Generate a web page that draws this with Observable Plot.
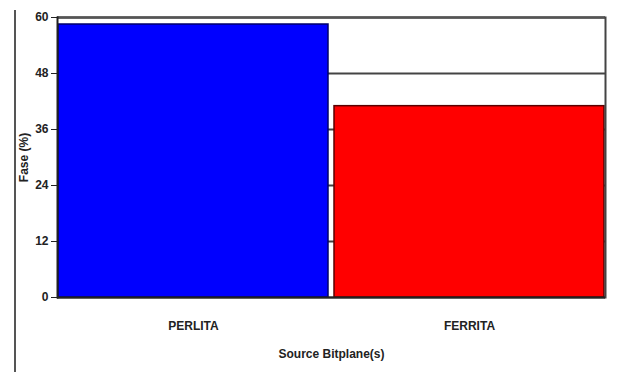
<!DOCTYPE html>
<html>
<head>
<meta charset="utf-8">
<script src="https://cdn.jsdelivr.net/npm/d3@7"></script>
<script src="https://cdn.jsdelivr.net/npm/@observablehq/plot@0.6"></script>
<style>
  html, body { margin: 0; padding: 0; background: #fff; }
  #wrap { position: relative; width: 619px; height: 372px; }
  #edge { position: absolute; left: 14px; top: 10px; width: 2px; height: 362px; background: #555; }
  svg { font-family: "Liberation Sans Narrow", "Liberation Sans", Arial, sans-serif; }
</style>
</head>
<body>
<div id="wrap"><div id="edge"></div></div>
<script>
const categories = ["PERLITA", "FERRITA"];
const values = [58.5, 41];
const colors = ["#0000ff", "#ff0000"];
const outlines = ["#00006a", "#5a0000"];
const yTicks = [0, 12, 24, 36, 48, 60];
const xTitle = "Source Bitplane(s)";
const yTitle = "Fase (%)";

const data = categories.map((c, i) => ({cat: c, v: values[i], fill: colors[i], stroke: outlines[i]}));

const chart = Plot.plot({
  width: 619,
  height: 372,
  marginLeft: 57,
  marginRight: 14,
  marginTop: 17,
  marginBottom: 75,
  style: {background: "transparent", fontSize: "12px", fontWeight: "bold", color: "#222"},
  x: {domain: categories, paddingInner: 0.02, paddingOuter: 0.0},
  y: {domain: [0, 60]},
  marks: [
    Plot.gridY(yTicks, {stroke: "#444", strokeOpacity: 1, strokeWidth: 2}),
    Plot.barY(data, {x: "cat", y: "v", fill: "fill", stroke: "stroke", strokeWidth: 1.5}),
    Plot.ruleY([60], {stroke: "#555", strokeWidth: 2.5}),
    Plot.frame({anchor: "right", stroke: "#444", strokeWidth: 2}),
    Plot.ruleY([0], {stroke: "#222", strokeWidth: 2}),
    Plot.frame({anchor: "left", stroke: "#222", strokeWidth: 2}),
    Plot.axisY({ticks: yTicks, tickSize: 6, tickPadding: 3, label: yTitle, labelAnchor: "center", labelArrow: "none", labelOffset: 38, fontSize: 12, fontWeight: "bold"}),
    Plot.axisX({tickSize: 0, tickPadding: 24, label: xTitle, labelAnchor: "center", labelArrow: "none", labelOffset: 60, fontSize: 12, fontWeight: "bold"})
  ]
});
document.getElementById("wrap").appendChild(chart);
</script>
</body>
</html>
